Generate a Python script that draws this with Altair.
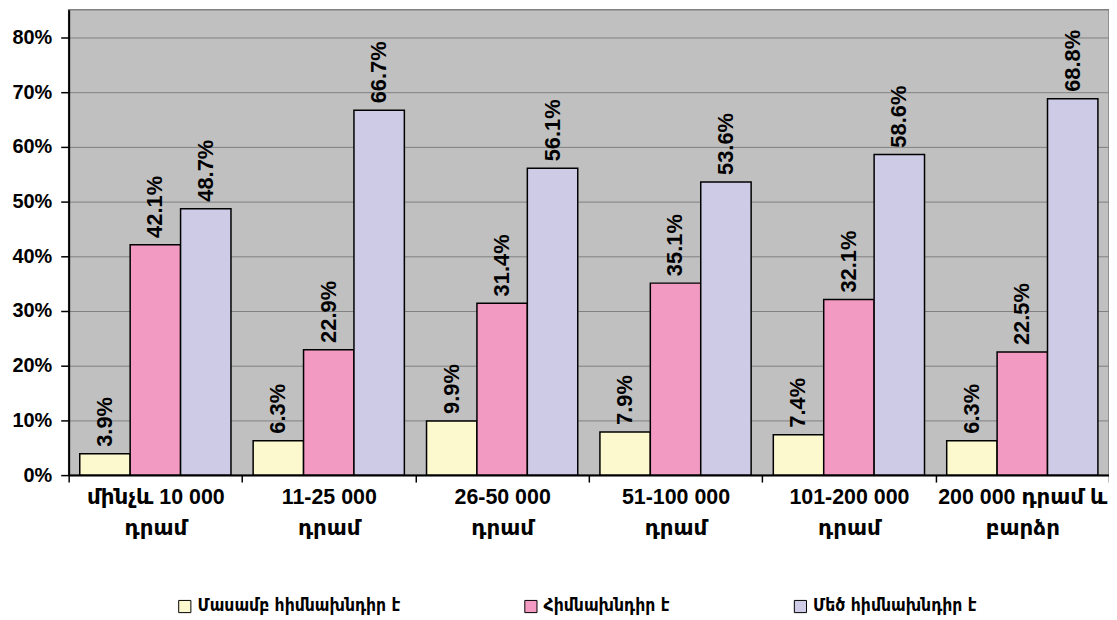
import altair as alt
import pandas as pd

categories = ["մինչև 10 000\nդրամ", "11-25 000\nդրամ", "26-50 000\nդրամ",
              "51-100 000\nդրամ", "101-200 000\nդրամ", "200 000 դրամ և\nբարձր"]
series = ["Մասամբ հիմնախնդիր է", "Հիմնախնդիր է", "Մեծ հիմնախնդիր է"]
partly = [3.9, 6.3, 9.9, 7.9, 7.4, 6.3]
problem = [42.1, 22.9, 31.4, 35.1, 32.1, 22.5]
big = [48.7, 66.7, 56.1, 53.6, 58.6, 68.8]
colors = ["#FCF9CF", "#F39AC2", "#CDCBE6"]
y_ticks = [0, 10, 20, 30, 40, 50, 60, 70, 80]

rows = []
for name, vals in zip(series, [partly, problem, big]):
    for c, v in zip(categories, vals):
        rows.append({"cat": c, "series": name, "v": v})
df = pd.DataFrame(rows)

FONT = "Liberation Sans, Arial, DejaVu Sans"

x = alt.X("cat:N", sort=categories, title=None,
          scale=alt.Scale(paddingInner=0, paddingOuter=0),
          axis=alt.Axis(tickBand="extent", labelAngle=0, labelFont=FONT,
                        labelFontSize=21.5, labelFontWeight="bold", labelColor="black",
                        labelExpr="split(datum.label, '\\n')", labelLineHeight=31,
                        labelBaseline="top", labelPadding=5,
                        tickSize=7, tickColor="black", tickWidth=1.5,
                        domainColor="black", domainWidth=2, grid=False))
xo = alt.XOffset("series:N", sort=series, scale=alt.Scale(paddingOuter=0.22, paddingInner=0))
y = alt.Y("v:Q", title=None,
          scale=alt.Scale(domain=[0, 85.1], nice=False, zero=True),
          axis=alt.Axis(values=y_ticks, labelExpr="datum.value + '%'", labelFont=FONT,
                        labelFontSize=20, labelFontWeight="bold", labelColor="black",
                        labelPadding=9, tickSize=8, tickColor="black", tickWidth=1.5,
                        domainColor="black", domainWidth=2,
                        grid=True, gridColor="#808080", gridWidth=1))

bars = alt.Chart(df).mark_bar(stroke="black", strokeWidth=1.5).encode(
    x=x, xOffset=xo, y=y,
    fill=alt.Fill("series:N", sort=series, title=None,
                  scale=alt.Scale(domain=series, range=colors),
                  legend=alt.Legend(orient="none", direction="horizontal",
                                    legendX=108, legendY=591,
                                    symbolType="square", symbolSize=150,
                                    symbolStrokeColor="black", symbolStrokeWidth=1,
                                    labelFont="DejaVu Sans Condensed", labelFontSize=17.5,
                                    labelFontWeight="bold", labelColor="black",
                                    columnPadding=122, labelLimit=400, padding=0)),
)

labels = alt.Chart(df).mark_text(angle=270, align="left", baseline="middle", dx=7,
                                 font=FONT, fontSize=22, fontWeight="bold",
                                 color="black").encode(
    x=x, xOffset=xo, y=y,
    text=alt.Text("lbl:N"),
).transform_calculate(lbl="format(datum.v, '.1f') + '%'")

chart = alt.layer(bars, labels).properties(
    width=1046, height=468,
    autosize=alt.AutoSizeParams(type="none"),
    padding={"left": 61, "top": 0, "right": 0, "bottom": 140},
    background="white",
).configure_view(fill="#C0C0C0", stroke="#808080", strokeWidth=1.5)

chart.save("out.html", embed_options={"renderer": "svg", "actions": False})
